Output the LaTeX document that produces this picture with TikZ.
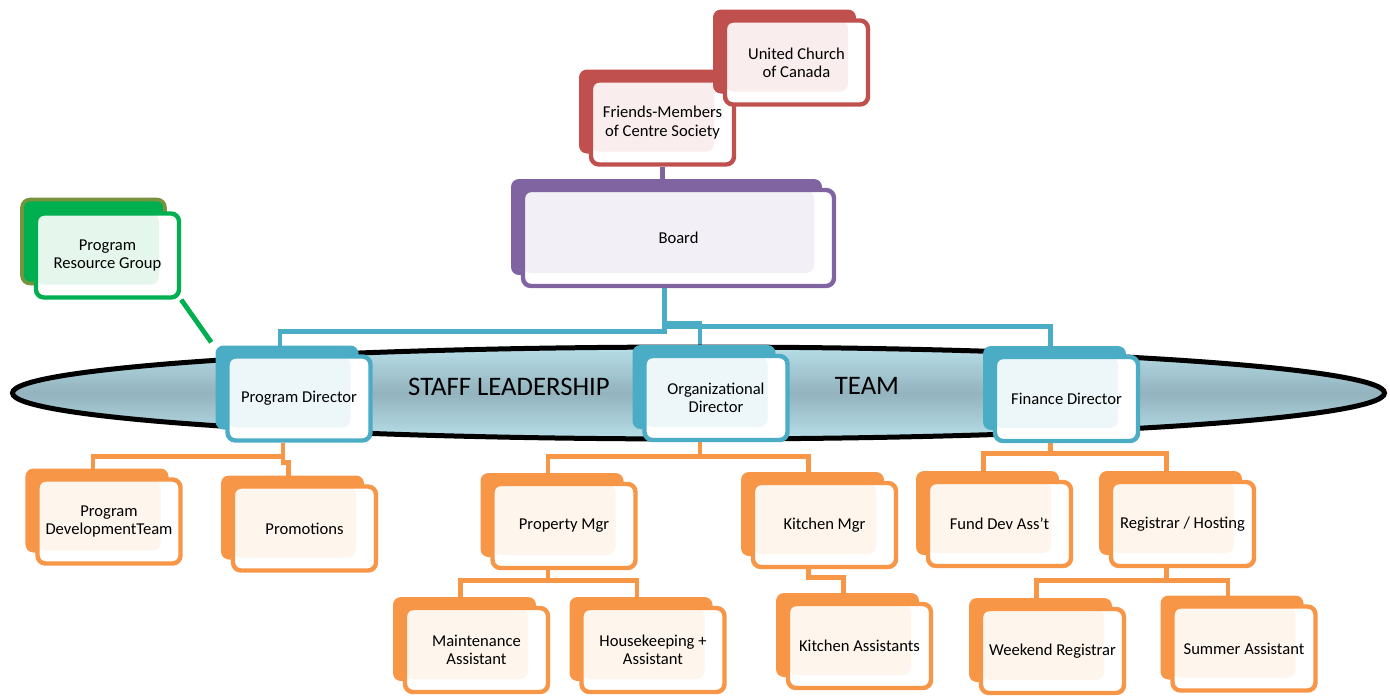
\documentclass[tikz,border=0pt]{standalone}
\usepackage{fontspec}
\setmainfont{Carlito}
\usetikzlibrary{shapes.geometric,shadows,backgrounds}

\definecolor{cyanbox}{HTML}{4BACC6}
\definecolor{orangebox}{HTML}{F79646}
\definecolor{redbox}{HTML}{C0504D}
\definecolor{purplebox}{HTML}{8064A2}
\definecolor{greenbox}{HTML}{00B050}
\definecolor{olivebox}{HTML}{77933C}
\definecolor{lensmid}{HTML}{93B3BE}
\definecolor{lensedge}{HTML}{B7DEE8}

\begin{document}
\begin{tikzpicture}[x=0.25mm, y=-0.25mm,
  front/.style = {draw=#1, fill=white, line width=1.1mm, rounded corners=2mm,
    minimum width=35.75mm, minimum height=21mm, align=center,
    font=\fontsize{11.8}{13}\selectfont,
    path picture={\fill[#1!10, rounded corners=2mm] (path picture bounding box.north west)
      rectangle ([xshift=-5mm, yshift=3.25mm]path picture bounding box.south east);}},
  box/.style = {front=#1, copy shadow={shadow xshift=-3mm, shadow yshift=2.75mm,
    fill=#1, draw=none, opacity=1}},
  greenframe/.style = {front=greenbox, copy shadow={shadow xshift=-3.5mm, shadow yshift=3.5mm,
    fill=greenbox, draw=olivebox, line width=0.9mm, opacity=1}},
  link/.style = {draw=#1, line width=1.2mm}]
\useasboundingbox (0,0) rectangle (1390,696);

% the staff leadership team band
\node[ellipse, draw=black, line width=1.25mm, minimum width=343mm, minimum height=23mm,
  top color=lensedge, bottom color=lensedge, middle color=lensmid] (lens) at (698.5,393) {};
\node[font=\fontsize{19}{22}\selectfont] (staff) at (509,387) {STAFF LEADERSHIP};
\node[font=\fontsize{19}{22}\selectfont] (team) at (867,386) {TEAM};

% governance
\node[box=redbox] (fmc) at (662.5,122.5) {Friends-Members\\of Centre Society};
\node[box=redbox] (ucc) at (796.5,62.5) {United Church\\of Canada};
\node[box=purplebox, minimum width=77.75mm, minimum height=24mm] (board) at (678.5,238) {Board};
\node[greenframe] (prg) at (107.5,255.5) {Program\\Resource Group};

% directors
\node[box=cyanbox] (pd) at (299,398.5) {Program Director};
\node[box=cyanbox] (od) at (716,398) {Organizational\\Director};
\node[box=cyanbox] (fd) at (1066.5,399) {Finance Director};

% staff
\node[box=orangebox] (pdt) at (109,521.5) {Program\\DevelopmentTeam};
\node[box=orangebox] (promo) at (304.5,528.5) {Promotions};
\node[box=orangebox] (pm) at (564,526) {Property Mgr};
\node[box=orangebox] (km) at (824.5,525) {Kitchen Mgr};
\node[box=orangebox] (fda) at (999.5,524) {Fund Dev Ass't};
\node[box=orangebox] (reg) at (1182.5,524) {Registrar / Hosting};
\node[box=orangebox] (ma) at (476.5,650) {Maintenance\\Assistant};
\node[box=orangebox] (hk) at (653,650) {Housekeeping +\\Assistant};
\node[box=orangebox] (ka) at (859.5,646) {Kitchen Assistants};
\node[box=orangebox] (wr) at (1052.5,651) {Weekend Registrar};
\node[box=orangebox] (sa) at (1244,648.5) {Summer Assistant};

\begin{scope}[on background layer]
\draw[link=purplebox] (fmc.south) -- (fmc.south |- board.north);
\draw[link=greenbox] (prg.south east) -- ([xshift=-3.5mm, yshift=3mm]pd.north west);
\draw[link=cyanbox] ([xshift=-3.5mm]board.south) -- ++(0,43) -| ([xshift=-4.75mm]pd.north);
\draw[link=cyanbox] ([xshift=-3.5mm]board.south) -- ++(0,35) -| ([xshift=-4mm]od.north);
\draw[link=cyanbox] ([xshift=-3.5mm]board.south) -- ++(0,38) -| ([xshift=-4mm]fd.north);
\draw[link=orangebox] ([xshift=-4mm]pd.south) -- ++(0,14) -| ([xshift=-4mm]pdt.north);
\draw[link=orangebox] ([xshift=-4mm]pd.south) -- ++(0,20) -| ([xshift=-4mm]promo.north);
\draw[link=orangebox] ([xshift=-4mm]od.south) -- ++(0,14) -| ([xshift=-4mm]pm.north);
\draw[link=orangebox] ([xshift=-4mm]od.south) -- ++(0,14) -| ([xshift=-4mm]km.north);
\draw[link=orangebox] ([xshift=-4mm]pm.south) -- ++(0,10) -| ([xshift=-4mm]ma.north);
\draw[link=orangebox] ([xshift=-4mm]pm.south) -- ++(0,10) -| ([xshift=-4mm]hk.north);
\draw[link=orangebox] ([xshift=-4mm]km.south) -- ++(0,8) -| ([xshift=-4mm]ka.north);
\draw[link=orangebox] ([xshift=-4mm]fd.south) -- ++(0,10) -| ([xshift=-4mm]fda.north);
\draw[link=orangebox] ([xshift=-4mm]fd.south) -- ++(0,10) -| ([xshift=-4mm]reg.north);
\draw[link=orangebox] ([xshift=-4mm]reg.south) -- ++(0,12) -| ([xshift=-4mm]wr.north);
\draw[link=orangebox] ([xshift=-4mm]reg.south) -- ++(0,12) -| ([xshift=-4mm]sa.north);
\end{scope}
\end{tikzpicture}
\end{document}
